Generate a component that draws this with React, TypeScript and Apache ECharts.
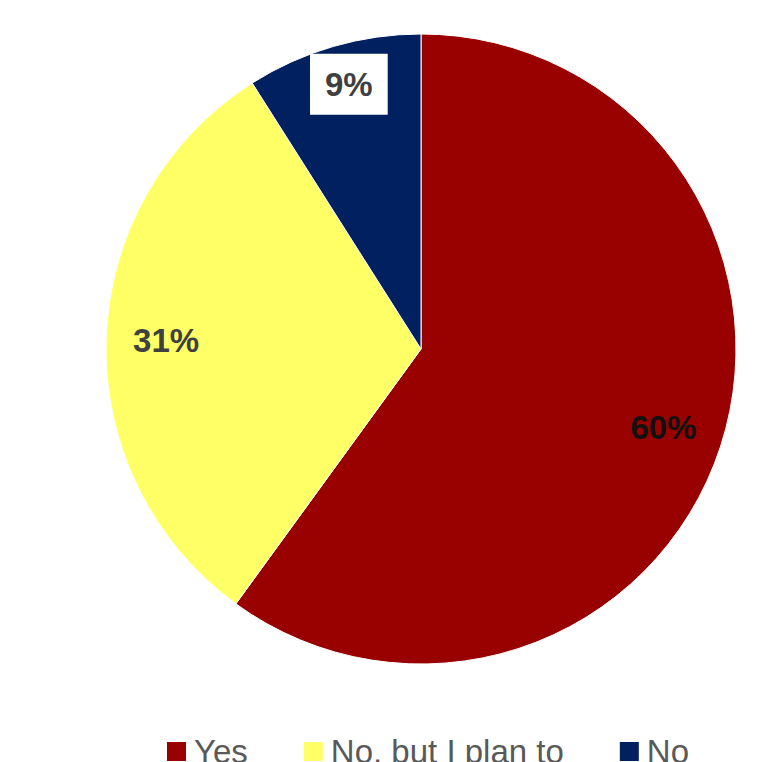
import React, { useEffect, useRef } from "react";
import * as echarts from "echarts";

const categories = ["Yes", "No, but I plan to", "No"];
const values = [60, 31, 9];
const colors = ["#990000", "#FFFF66", "#002060"];
const labelTexts = ["60%", "31%", "9%"];

export default function App() {
  const ref = useRef<HTMLDivElement>(null);
  useEffect(() => {
    if (!ref.current) return;
    const chart = echarts.init(ref.current, null, { renderer: "svg" });
    const font = "'Liberation Sans', Arial, sans-serif";
    const data = categories.map((name, i) => ({
      name,
      value: values[i],
      itemStyle: { color: colors[i] },
    }));
    chart.setOption({
      animation: false,
      backgroundColor: "#ffffff",
      legend: {
        left: 160,
        top: 730,
        itemWidth: 21,
        itemHeight: 21,
        itemGap: 54,
        icon: "rect",
        selectedMode: false,
        textStyle: { fontSize: 33, color: "#595959", fontFamily: font, padding: [0, 0, 0, 2] },
        data: categories.map((name, i) => ({ name, itemStyle: { color: colors[i] } })),
      },
      series: [
        {
          type: "pie",
          center: [421, 349],
          radius: [0, 315],
          startAngle: 90,
          clockwise: true,
          silent: true,
          label: { show: false },
          labelLine: { show: false },
          itemStyle: { borderColor: "#ffffff", borderWidth: 1 },
          data,
        },
        {
          type: "pie",
          center: [421, 349],
          radius: [189, 315],
          startAngle: 90,
          clockwise: true,
          silent: true,
          labelLine: { show: false },
          itemStyle: { color: "rgba(0,0,0,0)" },
          label: {
            show: true,
            position: "inside",
            fontFamily: font,
            fontSize: 33,
            fontWeight: "bold",
            formatter: (p: any) => labelTexts[p.dataIndex],
          },
          labelLayout: (p: any) => (p.dataIndex === 2 ? { dx: -1, dy: -20 } : {}),
          data: categories.map((name, i) => ({
            name,
            value: values[i],
            itemStyle: { color: "rgba(0,0,0,0)" },
            label:
              i === 0
                ? { color: "#111111" }
                : i === 1
                ? { color: "#404040" }
                : {
                    color: "#404040",
                    backgroundColor: "#ffffff",
                    padding: [14, 15, 14, 15],
                  },
          })),
        },
      ],
    });
    return () => chart.dispose();
  }, []);
  return (
    <div
      ref={ref}
      style={{ position: "fixed", left: 0, top: 0, width: 777, height: 762 }}
    />
  );
}
